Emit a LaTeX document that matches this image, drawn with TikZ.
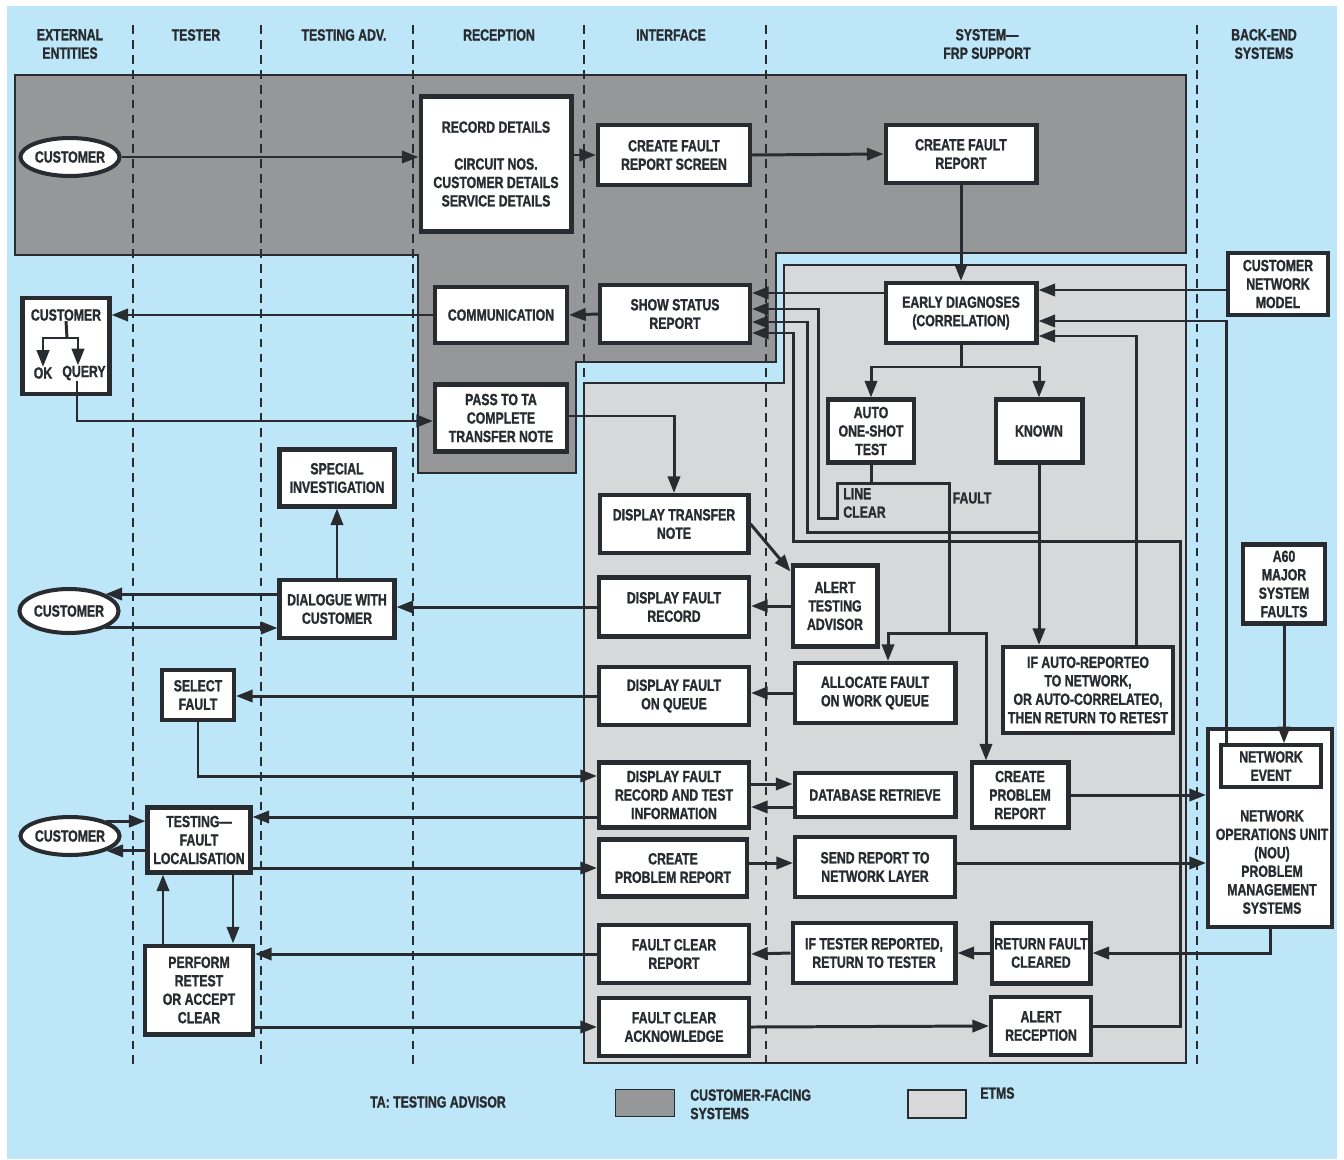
\documentclass[tikz,border=0pt]{standalone}
\usepackage{fontspec}
\setmainfont{Liberation Sans}[FakeStretch=0.76, BoldFeatures={FakeBold=1.3}]
\usetikzlibrary{shapes.geometric, arrows.meta, calc}

\definecolor{bgblue}{RGB}{189,231,248}
\definecolor{cfgrey}{RGB}{150,151,153}
\definecolor{etmsgrey}{RGB}{214,216,217}
\definecolor{ink}{RGB}{40,44,48}

\begin{document}
\begin{tikzpicture}[x=0.02cm, y=-0.02cm, text=ink,
        font=\fontsize{9.2}{10.5}\selectfont\bfseries,
        box/.style={draw=ink, line width=2.3pt, fill=white, align=center, inner sep=0pt},
        cust/.style={ellipse, draw=ink, line width=2.3pt, fill=white, inner sep=0pt, minimum width=1.92cm, minimum height=0.76cm},
        arr/.style={-{Triangle[length=9.5pt,width=7pt]}, draw=ink, line width=1.7pt},
        wire/.style={draw=ink, line width=1.7pt},
        lane/.style={draw=ink, line width=1pt, dash pattern=on 5pt off 3.5pt},
        hdr/.style={align=center, inner sep=0pt},
        lbl/.style={align=left, inner sep=0pt}
    ]
        \useasboundingbox (0,0) rectangle (1344,1159);
        \fill[white] (0,0) rectangle (1344,1159);
        \fill[bgblue] (7,6) rectangle (1337,1159);

        % customer-facing and ETMS areas
        \filldraw[fill=cfgrey, draw=ink, line width=1pt] (15,75) -- (1186,75) -- (1186,253) -- (776,253) -- (776,362) -- (576,362) -- (576,473) -- (418,473) -- (418,255) -- (15,255) -- cycle;
        \filldraw[fill=etmsgrey, draw=ink, line width=1pt] (584,383) -- (784,383) -- (784,265) -- (1186,265) -- (1186,1063) -- (584,1063) -- cycle;

        \foreach \lx in {133,261,413,584,766,1197}
            \draw[lane] (\lx,25) -- (\lx,1067);

        \node[hdr] (hext) at (70,44) {EXTERNAL\\ENTITIES};
        \node[hdr] (htest) at (196,35) {TESTER};
        \node[hdr] (hadv) at (344,35) {TESTING ADV.};
        \node[hdr] (hrec) at (499,35) {RECEPTION};
        \node[hdr] (hint) at (671,35) {INTERFACE};
        \node[hdr] (hsys) at (987,44) {SYSTEM—\\FRP SUPPORT};
        \node[hdr] (hback) at (1264,44) {BACK-END\\SYSTEMS};

        \node[cust] (cust1) at (70,157) {CUSTOMER};
        \node[box, minimum width=3.02cm, minimum height=2.7cm] (recdet) at (496,164) {RECORD DETAILS\\[10.5pt]CIRCUIT NOS.\\CUSTOMER DETAILS\\SERVICE DETAILS};
        \node[box, minimum width=3.04cm, minimum height=1.2cm] (cfrs) at (674,155) {CREATE FAULT\\REPORT SCREEN};
        \node[box, minimum width=3.02cm, minimum height=1.16cm] (cfr) at (961,154) {CREATE FAULT\\REPORT};

        \node[box, minimum width=1.74cm, minimum height=1.92cm] (cust2) at (66,346) {};
        \node[lbl] (cust2t) at (66,315) {CUSTOMER};
        \node[lbl] (ok) at (43,373) {OK};
        \node[lbl] (query) at (84,373) {QUERY};
        \node[box, minimum width=2.64cm, minimum height=1.12cm] (comm) at (501,315) {COMMUNICATION};
        \node[box, minimum width=3cm, minimum height=1.16cm] (ssr) at (675,314) {SHOW STATUS\\REPORT};
        \node[box, minimum width=3.02cm, minimum height=1.2cm] (ed) at (961,313) {EARLY DIAGNOSES\\(CORRELATION)};
        \node[box, minimum width=2cm, minimum height=1.24cm] (cnm) at (1278,284) {CUSTOMER\\NETWORK\\MODEL};

        \node[box, minimum width=2.64cm, minimum height=1.34cm] (passta) at (501,418) {PASS TO TA\\COMPLETE\\TRANSFER NOTE};
        \node[box, minimum width=1.72cm, minimum height=1.26cm] (aost) at (871,431) {AUTO\\ONE-SHOT\\TEST};
        \node[box, minimum width=1.74cm, minimum height=1.26cm] (known) at (1039,431) {KNOWN};
        \node[box, minimum width=2.3cm, minimum height=1.14cm] (specinv) at (337,478) {SPECIAL\\INVESTIGATION};
        \node[box, minimum width=2.98cm, minimum height=1.16cm] (dtn) at (674,524) {DISPLAY TRANSFER\\NOTE};
        \node[lbl, anchor=west] (lclear) at (843,503) {LINE\\CLEAR};
        \node[lbl] (faultl) at (972,498) {FAULT};

        \node[cust, minimum height=0.88cm] (cust3) at (69,611) {CUSTOMER};
        \node[box, minimum width=2.3cm, minimum height=1.16cm] (dwc) at (337,609) {DIALOGUE WITH\\CUSTOMER};
        \node[box, minimum width=3cm, minimum height=1.18cm] (dfr) at (674,607) {DISPLAY FAULT\\RECORD};
        \node[box, minimum width=1.7cm, minimum height=1.62cm] (ata) at (835,606) {ALERT\\TESTING\\ADVISOR};
        \node[box, minimum width=1.64cm, minimum height=1.58cm] (a60) at (1284,584) {A60\\MAJOR\\SYSTEM\\FAULTS};

        \node[box, minimum width=3.4cm, minimum height=1.72cm] (ifauto) at (1088,690) {IF AUTO-REPORTEO\\TO NETWORK,\\OR AUTO-CORRELATEO,\\THEN RETURN TO RETEST};
        \node[box, minimum width=1.44cm, minimum height=1cm] (selfault) at (198,695) {SELECT\\FAULT};
        \node[box, minimum width=3cm, minimum height=1.16cm] (dfq) at (674,696) {DISPLAY FAULT\\ON QUEUE};
        \node[box, minimum width=3.22cm, minimum height=1.2cm] (afwq) at (875,693) {ALLOCATE FAULT\\ON WORK QUEUE};

        \node[box, minimum width=2.48cm, minimum height=3.96cm] (nou) at (1270,828) {};
        \node[box, line width=2pt, minimum width=2cm, minimum height=0.84cm] (netev) at (1271,766) {NETWORK\\EVENT};
        \node[hdr] (noutxt) at (1272,862) {NETWORK\\OPERATIONS UNIT\\(NOU)\\PROBLEM\\MANAGEMENT\\SYSTEMS};

        \node[box, minimum width=3cm, minimum height=1.3cm] (dfrti) at (674,795) {DISPLAY FAULT\\RECORD AND TEST\\INFORMATION};
        \node[box, minimum width=3.22cm, minimum height=0.88cm] (dbr) at (875,795) {DATABASE RETRIEVE};
        \node[box, minimum width=1.94cm, minimum height=1.3cm] (cpr2) at (1020,795) {CREATE\\PROBLEM\\REPORT};

        \node[cust] (cust4) at (70,836) {CUSTOMER};
        \node[box, minimum width=2.06cm, minimum height=1.3cm] (tfl) at (199,840) {TESTING—\\FAULT\\LOCALISATION};
        \node[box, minimum width=2.96cm, minimum height=1.14cm] (cpr1) at (673,868) {CREATE\\PROBLEM REPORT};
        \node[box, minimum width=3.2cm, minimum height=1.2cm] (srnl) at (875,867) {SEND REPORT TO\\NETWORK LAYER};

        \node[box, minimum width=2.16cm, minimum height=1.78cm] (perf) at (199,990) {PERFORM\\RETEST\\OR ACCEPT\\CLEAR};
        \node[box, minimum width=3cm, minimum height=1.16cm] (fcr) at (674,954) {FAULT CLEAR\\REPORT};
        \node[box, minimum width=3.26cm, minimum height=1.2cm] (itr) at (874,953) {IF TESTER REPORTED,\\RETURN TO TESTER};
        \node[box, minimum width=1.98cm, minimum height=1.22cm] (rfc) at (1041,953) {RETURN FAULT\\CLEARED};
        \node[box, minimum width=3cm, minimum height=1.16cm] (fca) at (674,1027) {FAULT CLEAR\\ACKNOWLEDGE};
        \node[box, minimum width=2cm, minimum height=1.16cm] (alrec) at (1041,1026) {ALERT\\RECEPTION};

        % legend
        \node[draw=ink, line width=1pt, fill=cfgrey, inner sep=0pt, minimum width=1.18cm, minimum height=0.54cm] (legcf) at (645,1103) {};
        \node[lbl, anchor=north west] (legcft) at (690,1089) {CUSTOMER-FACING\\SYSTEMS};
        \node[draw=ink, line width=1pt, fill=etmsgrey, inner sep=0pt, minimum width=1.16cm, minimum height=0.56cm] (legetms) at (937,1104) {};
        \node[lbl, anchor=north west] (legetmst) at (980,1087) {ETMS};
        \node[lbl] (tanote) at (438,1102) {TA: TESTING ADVISOR};

        % connectors
        \draw[arr] (cust1.east) -- (recdet.west |- cust1.east);
        \draw[arr] (recdet.east |- cfrs.west) -- (cfrs.west);
        \draw[arr] (cfrs.east) -- (cfr.west);
        \draw[arr] (cfr.south) -- (ed.north);

        \draw[wire] (cust2t.south) -- (67,338) coordinate (cfork);
        \draw[arr] (cfork) -| (ok.north);
        \draw[arr] (cfork) -| (query.north -| 78,0);
        \draw[arr] (query.south -| 77,0) |- (passta.west |- 0,421);
        \draw[arr] (ssr.west) -- (comm.east);
        \draw[arr] (comm.west) -- (cust2.east |- comm.west);

        \draw[arr] (ed.west |- 0,293) -- (ssr.east |- 0,293);
        \draw[arr] (cnm.west |- 0,290) -- (ed.east |- 0,290);
        \draw[arr] ($(netev.north west)+(7,0)$) |- (ed.east |- 0,321);
        \draw[arr] (ifauto.north -| 1136,0) |- (ed.east |- 0,336);

        \draw[wire] (ed.south) -- (ed.south |- 0,367) coordinate (edfork);
        \draw[arr] (edfork) -| (aost.north);
        \draw[arr] (edfork) -| (known.north);
        \draw[wire] (aost.south) -- (aost.south |- 0,483) coordinate (aofork);
        \draw[arr] (aofork) -| (837,518) -| (818,309) -- (ssr.east |- 0,309);
        \draw[wire] (aofork) -| (949,633) coordinate (ffork);
        \draw[arr] (ffork) -| ($(afwq.north)+(13,0)$);
        \draw[arr] (ffork) -| ($(cpr2.north)+(-34,0)$);
        \draw[arr] (known.south) -- (ifauto.north -| known.south);
        \draw[arr] (known.south |- 0,532) -| (807,322) -- (ssr.east |- 0,322);
        \draw[arr] (alrec.east) -| (1180,541) -| (793,333) -- (ssr.east |- 0,333);

        \draw[arr] (passta.east |- 0,416) -| (dtn.north);
        \draw[arr] (dtn.east) -- ($(ata.north west)+(0,8)$);
        \draw[arr] (ata.west) -- (dfr.east |- ata.west);
        \draw[arr] (dfr.west) -- (dwc.east |- dfr.west);
        \draw[arr] (dwc.north) -- (specinv.south);
        \draw[arr] (dwc.west |- cust3.north east) -- (cust3.north east);
        \draw[arr] (cust3.south east) -- (dwc.west |- cust3.south east);

        \draw[arr] (afwq.west) -- (dfq.east |- afwq.west);
        \draw[arr] (dfq.west) -- (selfault.east |- dfq.west);
        \draw[arr] (selfault.south) |- (dfrti.west |- 0,776);
        \draw[arr] (dfrti.east |- 0,784) -- (dbr.west |- 0,784);
        \draw[arr] (dbr.west |- 0,807) -- (dfrti.east |- 0,807);
        \draw[arr] (dfrti.west |- 0,817) -- (tfl.east |- 0,817);
        \draw[arr] (cpr2.east) -- (nou.west |- cpr2.east);
        \draw[arr] (a60.south) -- (a60.south |- netev.north);

        \draw[arr] (cust4.north east) -- (tfl.west |- cust4.north east);
        \draw[arr] (tfl.west |- cust4.south east) -- (cust4.south east);
        \draw[arr] (tfl.east |- cpr1.west) -- (cpr1.west);
        \draw[arr] (cpr1.east |- 0,863) -- (srnl.west |- 0,863);
        \draw[arr] (srnl.east |- 0,863) -- (nou.west |- 0,863);
        \draw[arr] (perf.north -| 163,0) -- (tfl.south -| 163,0);
        \draw[arr] (tfl.south -| 233,0) -- (perf.north -| 233,0);

        \draw[arr] (nou.south) |- (rfc.east);
        \draw[arr] (rfc.west) -- (itr.east);
        \draw[arr] (itr.west) -- (fcr.east);
        \draw[arr] (fcr.west) -- (perf.east |- fcr.west);
        \draw[arr] (perf.east |- fca.west) -- (fca.west);
        \draw[arr] (fca.east) -- (alrec.west);
    \end{tikzpicture}
\end{document}
